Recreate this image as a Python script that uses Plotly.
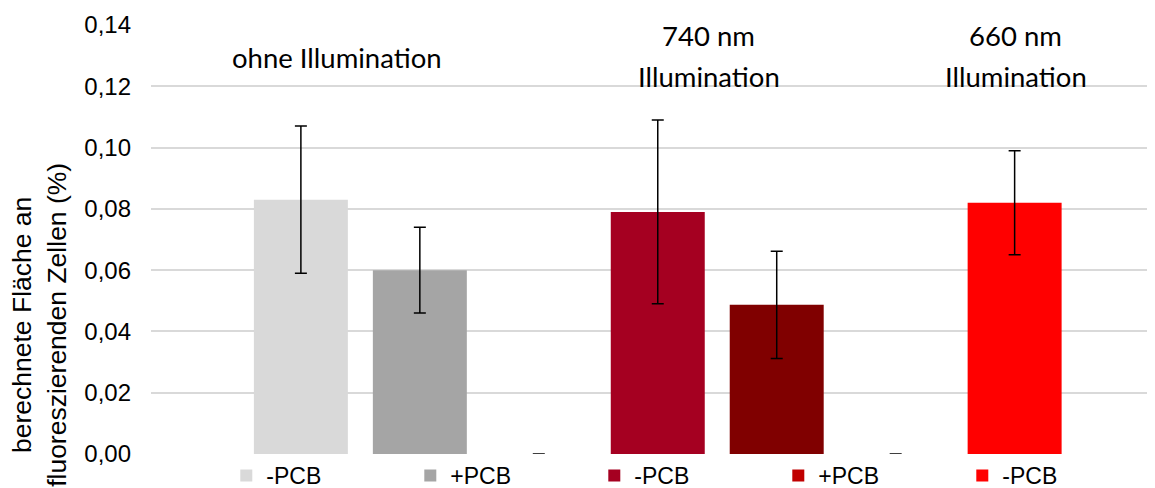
import plotly.graph_objects as go

# slots along the x axis (hidden labels)
slots = ["ohne -PCB", "ohne +PCB", "ohne leer", "740 -PCB", "740 +PCB", "740 leer", "660 -PCB"]

# one entry per legend item
names = ["-PCB", "+PCB", "-PCB", "+PCB", "-PCB"]
colors = ["#D9D9D9", "#A5A5A5", "#A50021", "#C00000", "#FF0000"]
series_slots = [["ohne -PCB"], ["ohne +PCB"], ["740 -PCB"], ["ohne leer", "740 leer"], ["660 -PCB"]]
series_values = [[0.083], [0.060], [0.079], [0.0, 0.0], [0.082]]
series_errors = [[0.024], [0.014], [0.030], [0.0, 0.0], [0.017]]

# +PCB at 740 nm has its own dark colour but no legend entry of its own
extra_slot = ["740 +PCB"]
extra_value = [0.0487]
extra_error = [0.0175]
extra_color = "#800000"

labels = ["ohne Illumination", "740 nm", "Illumination", "660 nm", "Illumination"]

fig = go.Figure()
for i in range(len(names)):
    fig.add_trace(go.Bar(
        x=series_slots[i], y=series_values[i], name=names[i],
        marker=dict(color=colors[i], line=dict(width=0)),
        width=0.79,
        error_y=dict(type="data", array=series_errors[i], color="black", thickness=1.5, width=6),
    ))
    if i == 2:
        fig.add_trace(go.Bar(
            x=extra_slot, y=extra_value, showlegend=False,
            marker=dict(color=extra_color, line=dict(width=0)),
            width=0.79,
            error_y=dict(type="data", array=extra_error, color="black", thickness=1.5, width=6),
        ))

font_lbl = dict(family="Lato", size=27.5, color="black")
lbl_pos = [(0.30, 0.925), (3.43, 0.975), (3.43, 0.881), (6.01, 0.975), (6.01, 0.881)]
for txt, (lx, ly) in zip(labels, lbl_pos):
    fig.add_annotation(x=lx, y=ly, xref="x", yref="paper", text=txt, showarrow=False,
                       xanchor="center", yanchor="middle", font=font_lbl)

fig.add_annotation(
    x=-0.111, y=0.30, xref="paper", yref="paper", textangle=-90,
    xanchor="center", yanchor="middle",
    text="berechnete Fläche an<br>fluoreszierenden Zellen (%)", showarrow=False,
    font=dict(family="Liberation Sans, Arial", size=26.5, color="black"),
)

# page body adds 8px around the figure, so the figure is 8px smaller
fig.update_layout(
    width=1147, height=480,
    margin=dict(l=143, r=0, t=17, b=34, autoexpand=False),
    plot_bgcolor="white", paper_bgcolor="white",
    barmode="overlay",
    separators=",.",
    font=dict(family="Liberation Sans, Arial", size=24, color="black"),
    xaxis=dict(categoryorder="array", categoryarray=slots, range=[-1.26, 7.18],
               showticklabels=False, showgrid=False, zeroline=False, showline=False),
    yaxis=dict(range=[0, 0.14], dtick=0.02, tickformat=".2f", showgrid=True,
               gridcolor="#D9D9D9", gridwidth=1.5, zeroline=False, showline=False,
               ticklabelstandoff=19),
    legend=dict(orientation="h", x=0.075, xanchor="left", y=0.0, yanchor="top",
                entrywidth=139, font=dict(size=23), itemclick=False, bgcolor="rgba(0,0,0,0)"),
)

fig.write_html("out.html")
